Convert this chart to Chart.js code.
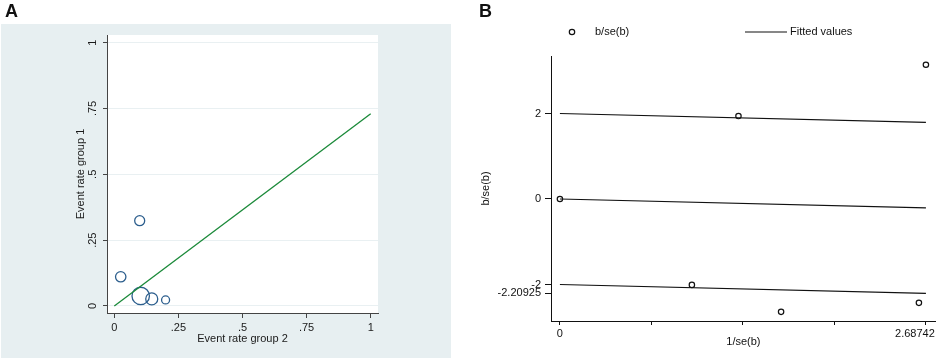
<!DOCTYPE html>
<html><head><meta charset="utf-8">
<script src="https://cdn.jsdelivr.net/npm/chart.js@4.4.0/dist/chart.umd.min.js"></script>
<style>
html,body{margin:0;padding:0;background:#fff;width:941px;height:360px;overflow:hidden}
#a{position:absolute;left:0;top:0}
#b{position:absolute;left:470px;top:0}
.lbl{position:absolute;font:bold 18px "Liberation Sans",Arial,sans-serif;line-height:18px;color:#111}
</style></head><body>
<canvas id="a" width="470" height="360"></canvas>
<canvas id="b" width="471" height="360"></canvas>
<div class="lbl" style="left:5px;top:2px">A</div>
<div class="lbl" style="left:479px;top:2px">B</div>
<script>
const FONT_A = '"Liberation Sans", Arial, sans-serif';
const FONT_B = '"Liberation Sans", Arial, sans-serif';
const SIZE_B = 11;

// ---- Panel A data ----
const rateGroup2 = [0.099, 0.025, 0.103, 0.146, 0.200];
const rateGroup1 = [0.324, 0.111, 0.038, 0.027, 0.023];
const studyWeight = [25, 27, 76, 36, 16];
const refLineX = [0, 1];
const refLineY = [0, 0.73];
const aTickValues = [0, 0.25, 0.5, 0.75, 1];
const aTickLabels = ['0', '.25', '.5', '.75', '1'];

// ---- Panel B data ----
const invSe = [0, 0.969, 1.311, 1.624, 2.636, 2.68742];
const bOverSe = [0, -2.01, 1.94, -2.64, -2.43, 3.14];
const fitX = [0, 2.68742];
const fitMid = [0, -0.20925];
const fitUpper = [2, 1.79075];
const fitLower = [-2, -2.20925];
const bXTickValues = [0, 0.671855, 1.34371, 2.015565, 2.68742];
const bXTickLabels = ['0', '', '', '', '2.68742'];
const bYTickValues = [-2.20925, -2, 0, 2];
const bYTickLabels = ['-2.20925', '-2', '0', '2'];

function zeroPad(s){ s.paddingLeft = 0; s.paddingRight = 0; s.paddingTop = 0; s.paddingBottom = 0; }

const bgA = {
  id: 'bgA',
  beforeDraw(c) {
    const ctx = c.ctx, a = c.chartArea;
    ctx.save();
    ctx.fillStyle = '#e7eff1';
    ctx.fillRect(1, 24, 450, 334);
    ctx.fillStyle = '#ffffff';
    ctx.fillRect(a.left, a.top, a.right - a.left, a.bottom - a.top);
    ctx.restore();
  }
};

new Chart(document.getElementById('a'), {
  type: 'scatter',
  data: {
    datasets: [
      {
        data: refLineX.map((x, i) => ({x, y: refLineY[i]})),
        showLine: true, borderColor: '#1b8a3a', borderWidth: 1.3,
        pointRadius: 0, fill: false
      },
      {
        data: rateGroup2.map((x, i) => ({x, y: rateGroup1[i]})),
        pointRadius: ctx => Math.sqrt(studyWeight[ctx.dataIndex] || 0),
        pointBorderColor: '#2c5e8d', pointBackgroundColor: 'rgba(0,0,0,0)',
        pointBorderWidth: 1.3, showLine: false
      }
    ]
  },
  options: {
    responsive: false, animation: false, devicePixelRatio: 1,
    layout: {padding: {left: 74, top: 35, right: 92, bottom: 14}},
    plugins: {legend: {display: false}, tooltip: {enabled: false}},
    scales: {
      x: {
        type: 'linear', min: -0.0285, max: 1.0285,
        afterBuildTicks: s => { s.ticks = aTickValues.map(v => ({value: v})); },
        afterFit: s => { s.height = 33; zeroPad(s); },
        grid: {drawOnChartArea: false, tickLength: 5, tickColor: '#444', tickWidth: 1},
        border: {color: '#444', width: 1},
        ticks: {padding: 3, color: '#1a1a1a', font: {family: FONT_A, size: 11},
                callback: (v, i) => aTickLabels[i], maxRotation: 0, autoSkip: false},
        title: {display: true, text: 'Event rate group 2', color: '#1a1a1a',
                font: {family: FONT_A, size: 11}, padding: 0}
      },
      y: {
        type: 'linear', min: -0.0266, max: 1.029,
        afterBuildTicks: s => { s.ticks = aTickValues.map(v => ({value: v})); },
        afterFit: s => { s.width = 33; zeroPad(s); },
        grid: {color: '#e9f0f2', lineWidth: 1, tickLength: 4, tickColor: '#444', tickWidth: 1},
        border: {color: '#444', width: 1},
        ticks: {padding: 2, color: '#1a1a1a', font: {family: FONT_A, size: 11},
                minRotation: 90, maxRotation: 90, crossAlign: 'center',
                callback: (v, i) => aTickLabels[i], autoSkip: false},
        title: {display: true, text: 'Event rate group 1', color: '#1a1a1a',
                font: {family: FONT_A, size: 11}, padding: 0}
      }
    }
  },
  plugins: [bgA]
});

const legendB = {
  id: 'legendB',
  beforeDraw(c) {
    const s = c.scales.x;
    const items = s.getLabelItems();
    for (const it of items) {
      if (it.label === bXTickLabels[bXTickLabels.length - 1]) {
        it.options.textAlign = 'right';
        it.options.translation = [c.chartArea.right - 1, it.options.translation[1]];
      }
    }
  },
  afterDraw(c) {
    const ctx = c.ctx;
    ctx.save();
    ctx.strokeStyle = '#111'; ctx.fillStyle = '#111'; ctx.lineWidth = 1.2;
    ctx.beginPath(); ctx.arc(102, 32, 2.7, 0, Math.PI * 2); ctx.stroke();
    ctx.beginPath(); ctx.moveTo(275, 32); ctx.lineTo(317, 32); ctx.stroke();
    ctx.font = SIZE_B + 'px ' + FONT_B; ctx.textBaseline = 'middle'; ctx.textAlign = 'left';
    ctx.fillText('b/se(b)', 125, 32);
    ctx.fillText('Fitted values', 320, 32);
    ctx.restore();
  }
};

const lineStyle = {showLine: true, borderColor: '#111', borderWidth: 1.2, pointRadius: 0, fill: false};

new Chart(document.getElementById('b'), {
  type: 'scatter',
  data: {
    datasets: [
      Object.assign({data: fitX.map((x, i) => ({x, y: fitUpper[i]}))}, lineStyle),
      Object.assign({data: fitX.map((x, i) => ({x, y: fitMid[i]}))}, lineStyle),
      Object.assign({data: fitX.map((x, i) => ({x, y: fitLower[i]}))}, lineStyle),
      {
        data: invSe.map((x, i) => ({x, y: bOverSe[i]})),
        pointRadius: 2.7, pointBorderColor: '#111', pointBackgroundColor: 'rgba(0,0,0,0)',
        pointBorderWidth: 1.2, showLine: false
      }
    ]
  },
  options: {
    responsive: false, animation: false, devicePixelRatio: 1,
    layout: {padding: {left: 9, top: 56, right: 2, bottom: 11}},
    plugins: {legend: {display: false}, tooltip: {enabled: false}},
    scales: {
      x: {
        type: 'linear', min: -0.0655, max: 2.760,
        afterBuildTicks: s => { s.ticks = bXTickValues.map(v => ({value: v})); },
        afterFit: s => { s.height = 28; zeroPad(s); },
        grid: {drawOnChartArea: false, tickLength: 4, tickColor: '#111', tickWidth: 1},
        border: {color: '#111', width: 1},
        ticks: {padding: 2, color: '#111', font: {family: FONT_B, size: SIZE_B},
                callback: (v, i) => bXTickLabels[i], maxRotation: 0, autoSkip: false},
        title: {display: true, text: '1/se(b)', color: '#111',
                font: {family: FONT_B, size: SIZE_B}, padding: 0}
      },
      y: {
        type: 'linear', min: -2.854, max: 3.345,
        afterBuildTicks: s => { s.ticks = bYTickValues.map(v => ({value: v})); },
        afterFit: s => { s.width = 72; zeroPad(s); },
        grid: {drawOnChartArea: false, tickLength: 6, tickColor: '#111', tickWidth: 1},
        border: {color: '#111', width: 1},
        ticks: {padding: 4, color: '#111', font: {family: FONT_B, size: SIZE_B},
                callback: (v, i) => bYTickLabels[i], autoSkip: false},
        title: {display: true, text: 'b/se(b)', color: '#111',
                font: {family: FONT_B, size: SIZE_B}, padding: 0}
      }
    }
  },
  plugins: [legendB]
});
</script>
</body></html>
